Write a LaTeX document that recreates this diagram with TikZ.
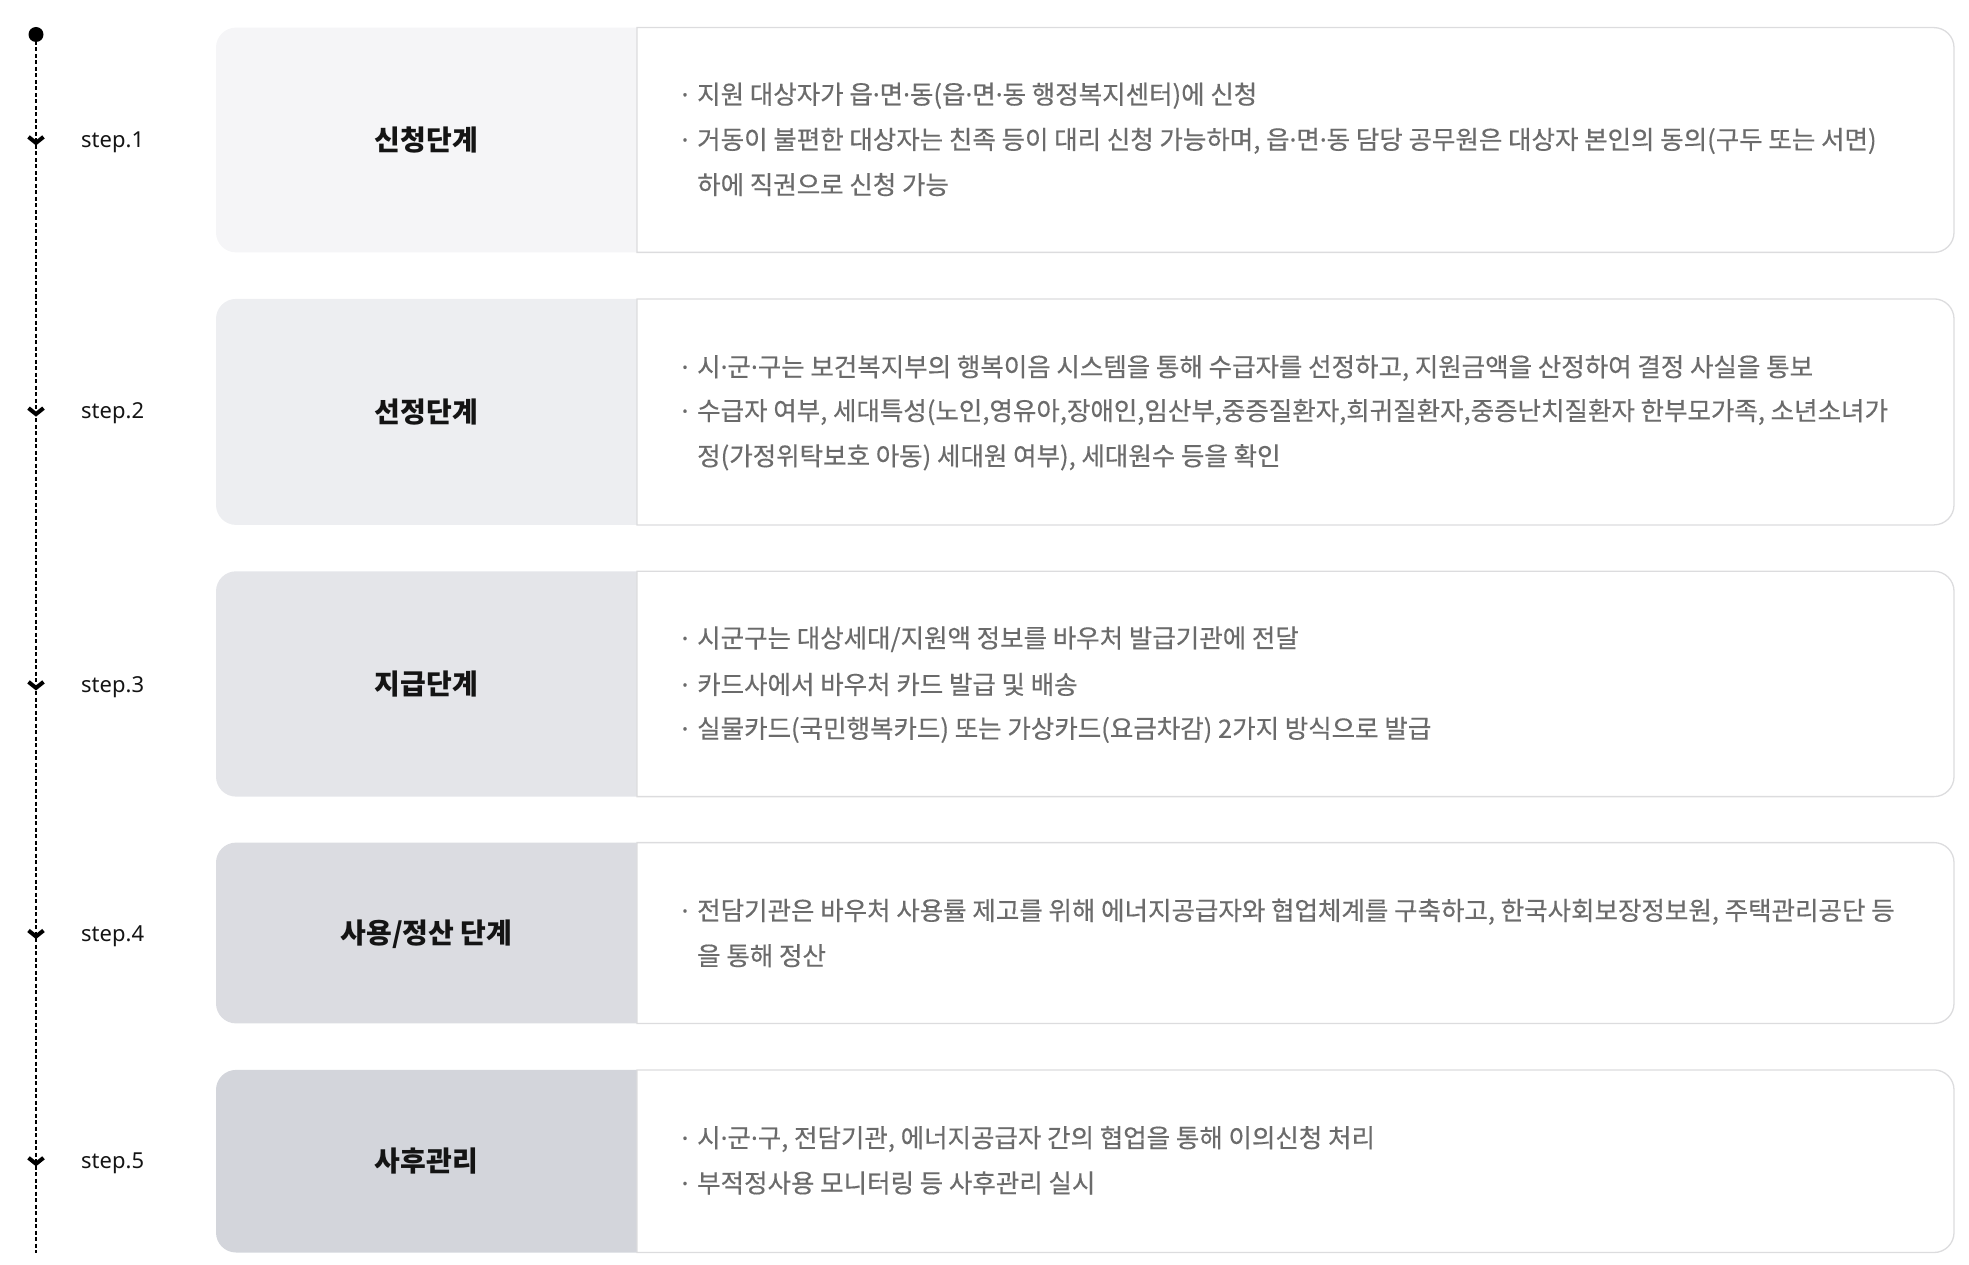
\documentclass[tikz,border=0pt]{standalone}
\usepackage{fontspec}
\setmainfont{Noto Sans CJK KR}
\newfontfamily\bodyfont[FakeBold=0.4]{Noto Sans CJK KR}
\newfontfamily\steplatin{Noto Sans}
\newfontfamily\dotfont[FakeBold=0.4]{Noto Sans}
\newcommand{\md}{{\dotfont ·}}
\definecolor{bordergray}{HTML}{DCDCDE}
\definecolor{bodygray}{HTML}{6B6B6B}
\definecolor{titleblack}{HTML}{141414}
\definecolor{fillA}{HTML}{F5F5F7}
\definecolor{fillB}{HTML}{EDEEF1}
\definecolor{fillC}{HTML}{E4E5E9}
\definecolor{fillD}{HTML}{DBDCE1}
\definecolor{fillE}{HTML}{D3D5DB}
\newcommand{\stageframe}[3]{%
  \fill[#3] (637,-#1) -- (236,-#1) arc[start angle=90,end angle=180,radius=20]
     -- (216,-#2+20) arc[start angle=180,end angle=270,radius=20] -- (637,-#2) -- cycle;
  \draw[boxborder] (637,-#1) -- (1934,-#1) arc[start angle=90,end angle=0,radius=20]
     -- (1954,-#2+20) arc[start angle=0,end angle=-90,radius=20] -- (637,-#2) -- cycle;
}
\newcommand{\chevmark}[1]{%
  \draw[chevron] (28.5,-#1+2.5) -- (36,-#1-3.5) -- (43.5,-#1+2.5);
}
\begin{document}
\begin{tikzpicture}[x=1pt,y=1pt,
  boxborder/.style={draw=bordergray,line width=1.3pt,fill=white},
  titletext/.style={font=\fontsize{28}{32}\selectfont\bfseries,text=titleblack,anchor=base,inner sep=0pt},
  bodytext/.style={font=\bodyfont\fontsize{25.5}{30}\selectfont,text=bodygray,anchor=base west,inner sep=0pt},
  bulletmark/.style={font=\dotfont\fontsize{25.5}{30}\selectfont,text=bodygray,anchor=base,inner sep=0pt},
  steplabel/.style={font=\steplatin\fontsize{22}{26}\selectfont,text=titleblack,anchor=base west,inner sep=0pt},
  chevron/.style={line width=4pt,line join=miter,draw=black},
  timeline/.style={draw=black,line width=1.2pt,dash pattern=on 4pt off 2.5pt}
]
\useasboundingbox (0,0) rectangle (1969,-1265);

% timeline
\node[circle,fill=black,inner sep=0pt,minimum size=15pt] (dot) at (36,-34.5) {};
\coordinate (tlend) at (36,-1252.5);
\draw[timeline] (dot.center) -- (tlend);

% stage frames
\stageframe{27.6}{252.4}{fillA}
\stageframe{298.9}{524.9}{fillB}
\stageframe{571.3}{796.6}{fillC}
\stageframe{842.6}{1023.4}{fillD}
\stageframe{1069.9}{1252.5}{fillE}

% chevrons
\chevmark{139.4}
\chevmark{410.6}
\chevmark{684.4}
\chevmark{933}
\chevmark{1160.3}

% step labels
\node[steplabel] (s1) at (81,-147.5) {step.1};
\node[steplabel] (s2) at (81,-418.5) {step.2};
\node[steplabel] (s3) at (81,-692.5) {step.3};
\node[steplabel] (s4) at (81,-941) {step.4};
\node[steplabel] (s5) at (81,-1168.5) {step.5};

% titles
\node[titletext] (t1) at (426.5,-150.5) {신청단계};
\node[titletext] (t2) at (426.5,-422.4) {선정단계};
\node[titletext] (t3) at (426.5,-694.4) {지급단계};
\node[titletext] (t4) at (426.5,-943.5) {사용/정산 단계};
\node[titletext] (t5) at (426.5,-1171.7) {사후관리};

% row 1
\node[bulletmark] (b1a) at (685,-103.8) {·};
\node[bodytext] (l1a) at (697,-103.8) {지원 대상자가 읍\md 면\md 동(읍\md 면\md 동 행정복지센터)에 신청};
\node[bulletmark] (b1b) at (685,-149) {·};
\node[bodytext] (l1b) at (697,-149) {거동이 불편한 대상자는 친족 등이 대리 신청 가능하며, 읍\md 면\md 동 담당 공무원은 대상자 본인의 동의(구두 또는 서면)};
\node[bodytext] (l1c) at (697,-194.2) {하에 직권으로 신청 가능};

% row 2
\node[bulletmark] (b2a) at (685,-376.3) {·};
\node[bodytext] (l2a) at (697,-376.3) {시\md 군\md 구는 보건복지부의 행복이음 시스템을 통해 수급자를 선정하고, 지원금액을 산정하여 결정 사실을 통보};
\node[bulletmark] (b2b) at (685,-420.2) {·};
\node[bodytext] (l2b) at (697,-420.2) {수급자 여부, 세대특성(노인,영유아,장애인,임산부,중증질환자,희귀질환자,중증난치질환자 한부모가족, 소년소녀가};
\node[bodytext] (l2c) at (697,-465.4) {정(가정위탁보호 아동) 세대원 여부), 세대원수 등을 확인};

% row 3
\node[bulletmark] (b3a) at (685,-647.5) {·};
\node[bodytext] (l3a) at (697,-647.5) {시군구는 대상세대/지원액 정보를 바우처 발급기관에 전달};
\node[bulletmark] (b3b) at (685,-694) {·};
\node[bodytext] (l3b) at (697,-694) {카드사에서 바우처 카드 발급 및 배송};
\node[bulletmark] (b3c) at (685,-737.9) {·};
\node[bodytext] (l3c) at (697,-737.9) {실물카드(국민행복카드) 또는 가상카드(요금차감) 2가지 방식으로 발급};

% row 4
\node[bulletmark] (b4a) at (685,-920) {·};
\node[bodytext] (l4a) at (697,-920) {전담기관은 바우처 사용률 제고를 위해 에너지공급자와 협업체계를 구축하고, 한국사회보장정보원, 주택관리공단 등};
\node[bodytext] (l4b) at (697,-965.2) {을 통해 정산};

% row 5
\node[bulletmark] (b5a) at (685,-1147.3) {·};
\node[bodytext] (l5a) at (697,-1147.3) {시\md 군\md 구, 전담기관, 에너지공급자 간의 협업을 통해 이의신청 처리};
\node[bulletmark] (b5b) at (685,-1192.5) {·};
\node[bodytext] (l5b) at (697,-1192.5) {부적정사용 모니터링 등 사후관리 실시};
\end{tikzpicture}
\end{document}
